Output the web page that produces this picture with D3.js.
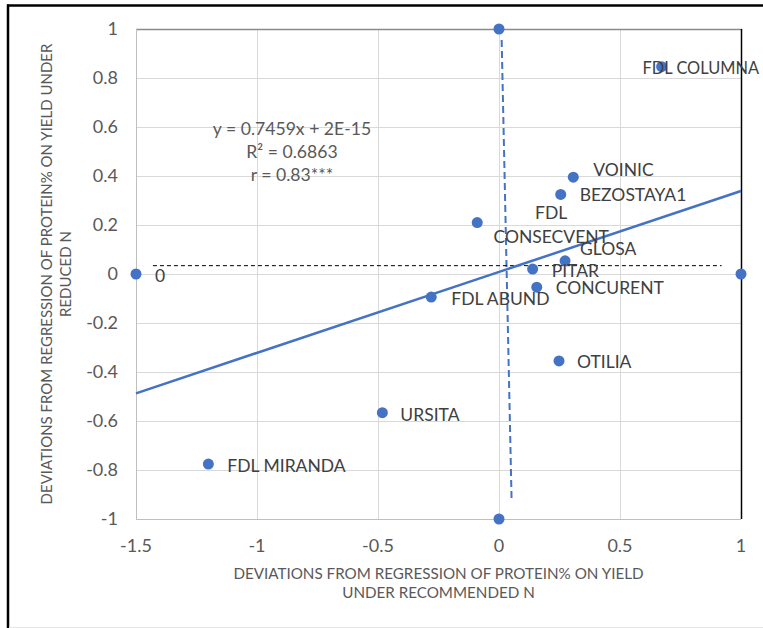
<!DOCTYPE html>
<html>
<head>
<meta charset="utf-8">
<script src="https://cdn.jsdelivr.net/npm/d3@7"></script>
<style>
  body { margin: 0; background: #fff; }
  text { font-family: Lato, "Open Sans", sans-serif; }
</style>
</head>
<body>
<div id="chart"></div>
<script>
// Declare constants
const FRAME_WIDTH = 763;
const FRAME_HEIGHT = 628;
const MARGINS = {left: 136, right: 22, top: 29, bottom: 109};

const VIS_WIDTH = FRAME_WIDTH - MARGINS.left - MARGINS.right;
const VIS_HEIGHT = FRAME_HEIGHT - MARGINS.top - MARGINS.bottom;

// cultivars: deviation under recommended N (x) and reduced N (y)
const varieties = ["FDL COLUMNA", "VOINIC", "BEZOSTAYA1", "FDL CONSECVENT", "GLOSA",
                   "PITAR", "CONCURENT", "FDL ABUND", "OTILIA", "URSITA", "FDL MIRANDA"];
const devRecommended = [0.672, 0.307, 0.255, -0.09, 0.273, 0.139, 0.156, -0.28, 0.248, -0.482, -1.201];
const devReduced = [0.846, 0.395, 0.325, 0.21, 0.054, 0.02, -0.054, -0.094, -0.355, -0.566, -0.776];

// axis anchor points
const anchorX = [-1.5, 0, 0, 1];
const anchorY = [0, 1, -1, 0];
const anchorLabels = ["0", "", "", ""];

// lines drawn on the chart
const trendX = [-1.5, 1];
const trendY = [-0.487, 0.339];
const vDashX = [0.011, 0.052];
const vDashY = [0.955, -0.922];
const hDashX = [-1.43, 0.92];
const hDashY = [0.034, 0.034];

const xTicks = [-1.5, -1, -0.5, 0, 0.5, 1];
const yTicks = [-1, -0.8, -0.6, -0.4, -0.2, 0, 0.2, 0.4, 0.6, 0.8, 1];

const equationLines = ["y = 0.7459x + 2E-15", "R\u00b2 = 0.6863", "r = 0.83***"];
const xTitle = ["DEVIATIONS FROM REGRESSION OF PROTEIN% ON YIELD", "UNDER RECOMMENDED N"];
const yTitle = ["DEVIATIONS FROM REGRESSION OF PROTEIN% ON YIELD UNDER", "REDUCED N"];

const BLUE = "#4472C4";

const svg = d3.select("#chart")
  .append("svg")
    .attr("width", FRAME_WIDTH)
    .attr("height", FRAME_HEIGHT);

// outer frame
svg.append("line").attr("x1", 7).attr("x2", FRAME_WIDTH).attr("y1", 5.5).attr("y2", 5.5)
  .attr("stroke", "black").attr("stroke-width", 2.5);
svg.append("line").attr("x1", 8).attr("x2", 8).attr("y1", 4.5).attr("y2", FRAME_HEIGHT)
  .attr("stroke", "black").attr("stroke-width", 2.5);
svg.append("line").attr("x1", 9).attr("x2", FRAME_WIDTH).attr("y1", 627.5).attr("y2", 627.5)
  .attr("stroke", "#e6e6e6").attr("stroke-width", 1);

const x = d3.scaleLinear().domain([-1.5, 1]).range([MARGINS.left, MARGINS.left + VIS_WIDTH]);
const y = d3.scaleLinear().domain([-1, 1]).range([MARGINS.top + VIS_HEIGHT, MARGINS.top]);

// gridlines
svg.append("g")
  .selectAll("line")
  .data(yTicks)
  .join("line")
    .attr("x1", x(-1.5)).attr("x2", x(1))
    .attr("y1", d => Math.round(y(d)) + 0.5).attr("y2", d => Math.round(y(d)) + 0.5)
    .attr("stroke", "#d9d9d9");
svg.append("g")
  .selectAll("line")
  .data(xTicks)
  .join("line")
    .attr("x1", d => Math.round(x(d)) + 0.5).attr("x2", d => Math.round(x(d)) + 0.5)
    .attr("y1", y(1)).attr("y2", y(-1))
    .attr("stroke", "#d9d9d9");

// plot borders
svg.append("line").attr("x1", x(-1.5)).attr("x2", x(1) + 1).attr("y1", Math.round(y(1)) + 0.5).attr("y2", Math.round(y(1)) + 0.5)
  .attr("stroke", "#8a8a8a").attr("stroke-width", 1.5);
svg.append("line").attr("x1", Math.round(x(1)) + 0.5).attr("x2", Math.round(x(1)) + 0.5).attr("y1", y(1)).attr("y2", y(-1))
  .attr("stroke", "black").attr("stroke-width", 1.5);
svg.append("line").attr("x1", x(-1.5)).attr("x2", x(1)).attr("y1", Math.round(y(-1)) + 0.5).attr("y2", Math.round(y(-1)) + 0.5)
  .attr("stroke", "#bfbfbf");
svg.append("line").attr("x1", Math.round(x(-1.5)) + 0.5).attr("x2", Math.round(x(-1.5)) + 0.5).attr("y1", y(1)).attr("y2", y(-1))
  .attr("stroke", "#bfbfbf");

// tick labels (plain hyphen for negatives, as in the original)
svg.append("g")
  .selectAll("text")
  .data(yTicks)
  .join("text")
    .attr("x", x(-1.5) - 18)
    .attr("y", d => y(d) + 6)
    .attr("text-anchor", "end")
    .attr("font-size", 18)
    .attr("fill", "#595959")
    .text(d => String(d));
svg.append("g")
  .selectAll("text")
  .data(xTicks)
  .join("text")
    .attr("x", d => x(d))
    .attr("y", y(-1) + 33)
    .attr("text-anchor", "middle")
    .attr("font-size", 18)
    .attr("fill", "#595959")
    .text(d => String(d));

// axis titles
svg.append("g")
  .selectAll("text")
  .data(xTitle)
  .join("text")
    .attr("x", x(-1.5) + VIS_WIDTH / 2)
    .attr("y", (d, i) => 579 + i * 19)
    .attr("text-anchor", "middle")
    .attr("font-size", 15.2)
    .attr("fill", "#595959")
    .text(d => d);
svg.append("g")
  .selectAll("text")
  .data(yTitle)
  .join("text")
    .attr("transform", (d, i) => `translate(${52 + i * 19},${MARGINS.top + VIS_HEIGHT / 2}) rotate(-90)`)
    .attr("text-anchor", "middle")
    .attr("font-size", 15)
    .attr("fill", "#595959")
    .text(d => d);

// dashed reference lines
const line = d3.line().x(d => x(d[0])).y(d => y(d[1]));
svg.append("path")
  .attr("d", line(d3.zip(vDashX, vDashY)))
  .attr("stroke", BLUE).attr("stroke-width", 2).attr("stroke-dasharray", "7,4")
  .attr("fill", "none");
svg.append("path")
  .attr("d", line(d3.zip(hDashX, hDashY)))
  .attr("stroke", "black").attr("stroke-width", 1).attr("stroke-dasharray", "4,3")
  .attr("fill", "none");

// trend line
svg.append("path")
  .attr("d", line(d3.zip(trendX, trendY)))
  .attr("stroke", BLUE).attr("stroke-width", 2.5)
  .attr("fill", "none");

// anchor points
const anchors = d3.zip(anchorX, anchorY, anchorLabels);
svg.append("g")
  .selectAll("circle")
  .data(anchors)
  .join("circle")
    .attr("cx", d => x(d[0]))
    .attr("cy", d => y(d[1]))
    .attr("r", 5.5)
    .attr("fill", BLUE);
svg.append("g")
  .selectAll("text")
  .data(anchors.filter(d => d[2] !== ""))
  .join("text")
    .attr("x", d => x(d[0]) + 19)
    .attr("y", d => y(d[1]) + 8)
    .attr("font-size", 17.5)
    .attr("fill", "#404040")
    .text(d => d[2]);

// cultivar points
const points = d3.zip(devRecommended, devReduced, varieties);
svg.append("g")
  .selectAll("circle")
  .data(points)
  .join("circle")
    .attr("cx", d => x(d[0]))
    .attr("cy", d => y(d[1]))
    .attr("r", 5.5)
    .attr("fill", BLUE);

// label placement (offset from point)
const labelOffset = {
  "FDL COLUMNA": [-19, 7],
  "VOINIC": [20, -1],
  "BEZOSTAYA1": [19, 7],
  "GLOSA": [15, -6],
  "PITAR": [19, 8],
  "CONCURENT": [19, 7],
  "FDL ABUND": [20, 8],
  "OTILIA": [18, 7],
  "URSITA": [18, 8],
  "FDL MIRANDA": [19, 8]
};

const labels = svg.append("g");
points.forEach(d => {
  if (d[2] === "FDL CONSECVENT") {
    const t = labels.append("text")
      .attr("text-anchor", "middle")
      .attr("font-size", 17.5)
      .attr("fill", "#404040");
    t.append("tspan").attr("x", x(d[0]) + 74).attr("y", y(d[1]) - 4).text("FDL");
    t.append("tspan").attr("x", x(d[0]) + 74).attr("y", y(d[1]) + 20).text("CONSECVENT");
  } else {
    const off = labelOffset[d[2]];
    const t = labels.append("text")
      .attr("x", x(d[0]) + off[0])
      .attr("y", y(d[1]) + off[1])
      .attr("font-size", 17.5)
      .attr("fill", "#404040")
      .text(d[2]);
    // keep the long label inside the picture
    const room = FRAME_WIDTH - 4 - (x(d[0]) + off[0]);
    if (t.node().getComputedTextLength() > room) {
      t.attr("textLength", room).attr("lengthAdjust", "spacingAndGlyphs");
    }
  }
});

// regression equation
svg.append("g")
  .selectAll("text")
  .data(equationLines)
  .join("text")
    .attr("x", 292)
    .attr("y", (d, i) => 135 + i * 23)
    .attr("text-anchor", "middle")
    .attr("font-size", 17.6)
    .attr("fill", "#595959")
    .text(d => d);
</script>
</body>
</html>
